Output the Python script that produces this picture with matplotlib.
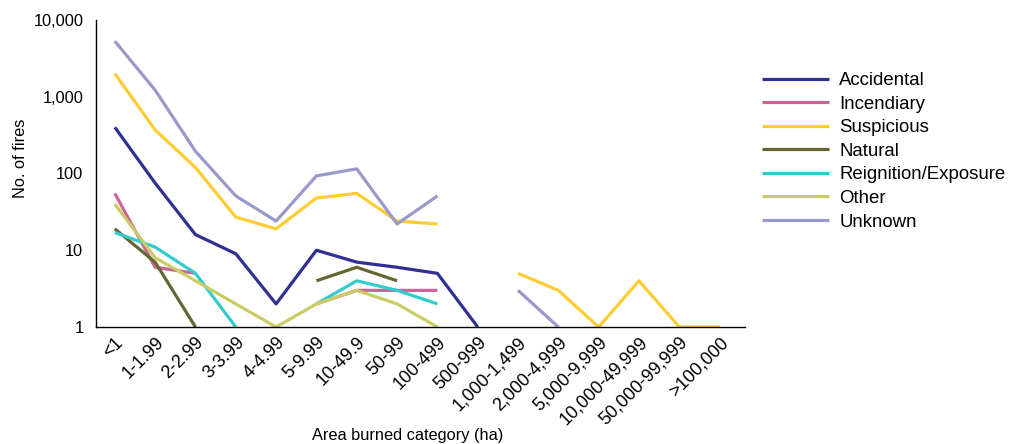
import numpy as np
import matplotlib
matplotlib.use('Agg')
import matplotlib.pyplot as plt
from matplotlib.ticker import FixedLocator, FixedFormatter, NullLocator

plt.rcParams['font.family'] = ['Liberation Sans', 'DejaVu Sans']

nan = np.nan

categories = ['<1', '1-1.99', '2-2.99', '3-3.99', '4-4.99', '5-9.99', '10-49.9',
              '50-99', '100-499', '500-999', '1,000-1,499', '2,000-4,999',
              '5,000-9,999', '10,000-49,999', '50,000-99,999', '>100,000']

# number of fires per cause (NaN = no fires, line broken)
accidental = [400, 75, 16, 9, 2, 10, 7, 6, 5, 1, nan, nan, nan, nan, nan, nan]
incendiary = [55, 6, 5, nan, nan, 2, 3, 3, 3, nan, nan, nan, nan, nan, nan, nan]
suspicious = [2000, 370, 120, 27, 19, 48, 55, 24, 22, nan, 5, 3, 1, 4, 1, 1]
natural = [19, 7, 1, nan, nan, 4, 6, 4, nan, nan, nan, nan, nan, nan, nan, nan]
reignition = [17, 11, 5, 1, nan, 2, 4, 3, 2, nan, nan, nan, nan, nan, nan, nan]
other = [40, 8, 4, 2, 1, 2, 3, 2, 1, nan, nan, nan, nan, nan, nan, nan]
unknown = [5300, 1220, 195, 51, 24, 93, 115, 22, 51, nan, 3, 1, nan, nan, nan, nan]

series = [
    ('Accidental', accidental, '#2e3192'),
    ('Incendiary', incendiary, '#cc6699'),
    ('Suspicious', suspicious, '#ffcc33'),
    ('Natural', natural, '#666633'),
    ('Reignition/Exposure', reignition, '#33cccc'),
    ('Other', other, '#cccc66'),
    ('Unknown', unknown, '#9999cc'),
]

fig = plt.figure(figsize=(10.09, 4.44), dpi=100)
ax = fig.add_axes([0.095, 0.2635, 0.643, 0.6915])

x = np.arange(len(categories))
for name, vals, col in series:
    ax.plot(x, vals, color=col, linewidth=2.3, label=name, solid_capstyle='butt')

ax.set_yscale('log')
ax.set_ylim(1, 10000)
ax.set_xlim(-0.47, 15.62)
yt = [1, 10, 100, 1000, 10000]
ax.yaxis.set_major_locator(FixedLocator(yt))
ax.yaxis.set_major_formatter(FixedFormatter(['{:,}'.format(v) for v in yt]))
ax.yaxis.set_minor_locator(NullLocator())
ax.set_xticks(x)
ax.set_xticklabels(categories, rotation=45, ha='right', rotation_mode='anchor')
ax.tick_params(axis='y', length=0, pad=9, labelsize=11.8)
ax.tick_params(axis='x', length=0, pad=5, labelsize=13)

for s in ['top', 'right']:
    ax.spines[s].set_visible(False)
for s in ['left', 'bottom']:
    ax.spines[s].set_linewidth(1.0)

ax.set_xlabel('Area burned category (ha)', fontsize=11.8)
ax.xaxis.set_label_coords(0.48, -0.328)
ax.set_ylabel('No. of fires', fontsize=11.8)
ax.yaxis.set_label_coords(-0.105, 0.55)

fig.legend(loc='upper left', bbox_to_anchor=(0.739, 0.875), frameon=False,
           fontsize=13.4, handlelength=3.6, handletextpad=0.54, labelspacing=0.35)

fig.savefig('out.png', dpi=100)
